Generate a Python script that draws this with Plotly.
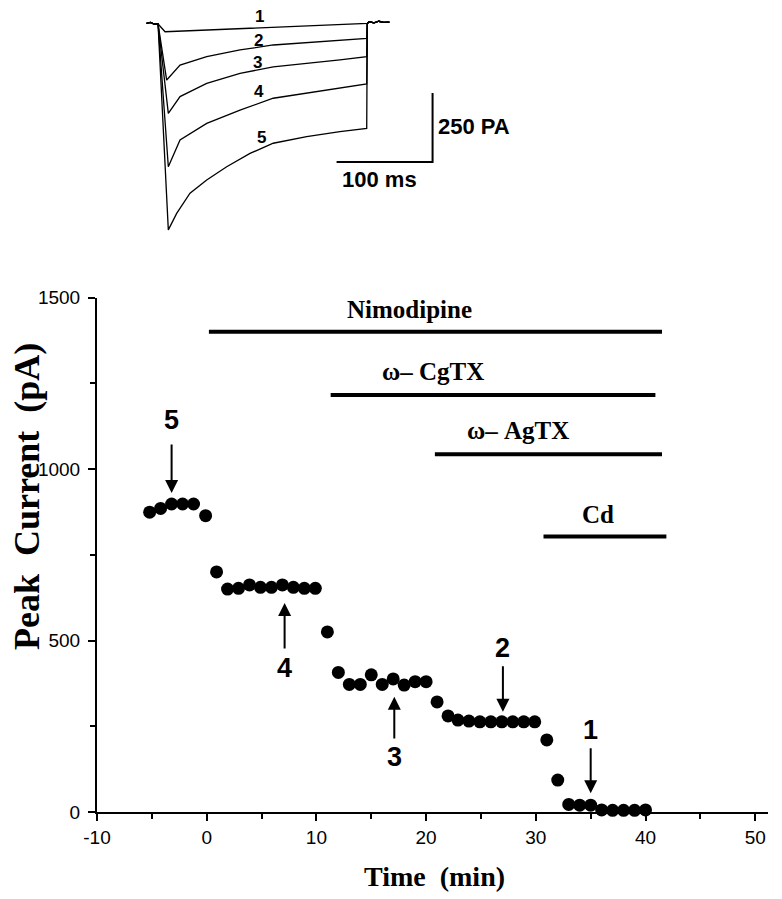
import plotly.graph_objects as go

# the page body has an 8px margin, so the figure is drawn 8px in from the corner
OFF = 8
W, H = 782 - OFF, 899 - OFF


def fx(p):
    return (p - OFF) / W


def fy(p):
    return 1 - (p - OFF) / H


# peak current time course (min, pA)
time_min = [-5.2, -4.2, -3.2, -2.2, -1.2, -0.1, 0.9,
            1.9, 2.9, 3.9, 4.9, 5.9, 6.9, 7.9, 8.9, 9.9, 11.0,
            12.0, 13.0, 14.0, 15.0, 16.0, 17.0, 18.0, 19.0, 20.0,
            21.0, 22.0, 22.9, 23.9, 24.9, 25.9, 26.9, 27.9, 28.9, 29.9,
            31.0, 32.0, 33.0, 34.0, 35.0, 36.0, 37.0, 38.0, 39.0, 40.0]
peak_pA = [874, 885, 898, 898, 898, 864, 700,
           650, 652, 662, 655, 655, 662, 655, 652, 652, 525,
           407, 372, 372, 400, 372, 388, 370, 380, 380,
           321, 280, 268, 265, 263, 263, 263, 263, 263, 263,
           210, 93, 22, 20, 20, 6, 5, 5, 5, 6]

# drug application bars
drug_names = ["Nimodipine", "ω– CgTX", "ω– AgTX", "Cd"]
drug_start = [0.2, 11.3, 20.8, 30.7]
drug_end = [41.5, 40.9, 41.5, 41.9]
drug_level = [1400, 1216, 1043, 803]
drug_label_x = [18.5, 20.6, 28.4, 35.7]
drug_label_y = [1464, 1285, 1111, 868]

# numbered arrows (which sweep is shown in the inset)
arrow_labels = ["5", "4", "3", "2", "1"]
arrow_t = [-3.2, 7.1, 17.1, 27.0, 35.0]
arrow_text_y = [1143, 420, 161, 478, 239]
arrow_tail = [1076, 472, 210, 429, 190]
arrow_tip = [930, 609, 336, 292, 55]

# inset current sweeps (ms, pA)
pre_t = [-13, -9, -5, -1]
pre_i = [2, 6, 0, 0]
post_t = [219, 224, 229, 234, 240]
post_i = [8, 4, 10, 6, 7]
sweep_t = {
    "1": [6.3, 49.7, 119, 216.4, 217],
    "2": [8, 21.9, 49.7, 84.4, 119, 153.8, 188.5, 216.4, 217],
    "3": [9.7, 21.9, 49.7, 84.4, 119, 153.8, 188.5, 216.4, 217],
    "4": [9.7, 21.9, 49.7, 84.4, 119, 153.8, 188.5, 216.4, 217],
    "5": [9.7, 18.4, 32.3, 49.7, 70.5, 94.8, 119, 153.8, 188.5, 216.4, 217],
}
sweep_i = {
    "1": [-28, -22, -10, 2, 2],
    "2": [-203, -149, -118, -94, -76, -68, -58, -52, 2],
    "3": [-324, -263, -215, -179, -155, -143, -130, -118, 2],
    "4": [-517, -420, -360, -312, -269, -251, -233, -217, 2],
    "5": [-746, -686, -613, -565, -517, -469, -432, -408, -390, -378, 2],
}
sweep_label_t = [105, 104, 103, 104, 107]
sweep_label_i = [28, -58, -138, -246, -413]
scalebar_t = [285, 285, 185]
scalebar_i = [-250, -500, -500]

x_ticks = [-10, 0, 10, 20, 30, 40, 50]
x_ticktext = ["-10", "0", "10", "20", "30", "40", "50"]
y_ticks = [0, 500, 1000, 1500]

fig = go.Figure()

fig.add_trace(go.Scatter(x=time_min, y=peak_pA, mode="markers",
                         marker=dict(size=13, color="black"),
                         cliponaxis=False, showlegend=False))

for i in range(len(drug_names)):
    fig.add_trace(go.Scatter(x=[drug_start[i], drug_end[i]], y=[drug_level[i], drug_level[i]],
                             mode="lines", line=dict(color="black", width=4),
                             cliponaxis=False, showlegend=False))
    fig.add_annotation(x=drug_label_x[i], y=drug_label_y[i], text="<b>" + drug_names[i] + "</b>",
                       showarrow=False, font=dict(family="Liberation Serif", size=25, color="black"))

for i in range(len(arrow_labels)):
    fig.add_annotation(x=arrow_t[i], y=arrow_tip[i], ax=arrow_t[i], ay=arrow_tail[i],
                       axref="x", ayref="y", text="", showarrow=True,
                       arrowhead=2, arrowsize=1.3, arrowwidth=2, arrowcolor="black")
    fig.add_annotation(x=arrow_t[i], y=arrow_text_y[i], text="<b>" + arrow_labels[i] + "</b>",
                       showarrow=False, font=dict(family="Liberation Sans", size=27, color="black"))

for k in ["1", "2", "3", "4", "5"]:
    fig.add_trace(go.Scatter(x=pre_t + sweep_t[k] + post_t, y=pre_i + sweep_i[k] + post_i,
                             mode="lines", line=dict(color="black", width=1.3),
                             xaxis="x2", yaxis="y2", showlegend=False))
for i, k in enumerate(["1", "2", "3", "4", "5"]):
    fig.add_annotation(x=sweep_label_t[i], y=sweep_label_i[i], text="<b>" + k + "</b>",
                       xref="x2", yref="y2", showarrow=False,
                       font=dict(family="Liberation Sans", size=17, color="black"))

fig.add_trace(go.Scatter(x=scalebar_t, y=scalebar_i, mode="lines",
                         line=dict(color="black", width=2),
                         xaxis="x2", yaxis="y2", showlegend=False))
fig.add_annotation(x=289, y=-373, text="<b>250 PA</b>", xref="x2", yref="y2", xanchor="left",
                   showarrow=False, font=dict(family="Liberation Sans", size=22, color="black"))
fig.add_annotation(x=230, y=-565, text="<b>100 ms</b>", xref="x2", yref="y2", xanchor="center",
                   showarrow=False, font=dict(family="Liberation Sans", size=22, color="black"))

fig.add_annotation(x=fx(27), y=fy(497), xref="paper", yref="paper", textangle=-90,
                   xanchor="center", yanchor="middle",
                   text="<b>Peak  Current  (pA)</b>", showarrow=False,
                   font=dict(family="Liberation Serif", size=36, color="black"))
fig.add_annotation(x=fx(434), y=fy(876), xref="paper", yref="paper",
                   xanchor="center", yanchor="middle",
                   text="<b>Time  (min)</b>", showarrow=False,
                   font=dict(family="Liberation Serif", size=28, color="black"))

tickfont = dict(family="Liberation Sans", size=19, color="black")
fig.update_layout(
    width=W, height=H,
    margin=dict(l=0, r=0, t=0, b=0),
    paper_bgcolor="white", plot_bgcolor="white",
    xaxis=dict(domain=[fx(97), fx(768.4)], range=[-10, 51.2], showgrid=False, zeroline=False,
               automargin=False,
               showline=True, linecolor="black", linewidth=2,
               ticks="outside", ticklen=7, tickwidth=2, tickcolor="black",
               tickvals=x_ticks, ticktext=x_ticktext, tickfont=tickfont,
               minor=dict(tickvals=[-5, 5, 15, 25, 35, 45], ticks="outside", ticklen=5,
                          tickwidth=2, tickcolor="black", showgrid=False)),
    yaxis=dict(domain=[fy(812), fy(297.5)], range=[0, 1500], showgrid=False, zeroline=False,
               automargin=False,
               showline=True, linecolor="black", linewidth=2,
               ticks="outside", ticklen=7, tickwidth=2, tickcolor="black",
               tickvals=y_ticks, tickfont=tickfont, ticklabelstandoff=4,
               minor=dict(tickvals=[250, 750, 1250], ticks="outside", ticklen=5,
                          tickwidth=2, tickcolor="black", showgrid=False)),
    xaxis2=dict(domain=[fx(140), fx(530)], range=[-19.8, 386.5], visible=False, anchor="y2",
                automargin=False),
    yaxis2=dict(domain=[fy(240), fy(8)], range=[-782.6, 58.0], visible=False, anchor="x2",
                automargin=False),
)

fig.write_html("out.html")
